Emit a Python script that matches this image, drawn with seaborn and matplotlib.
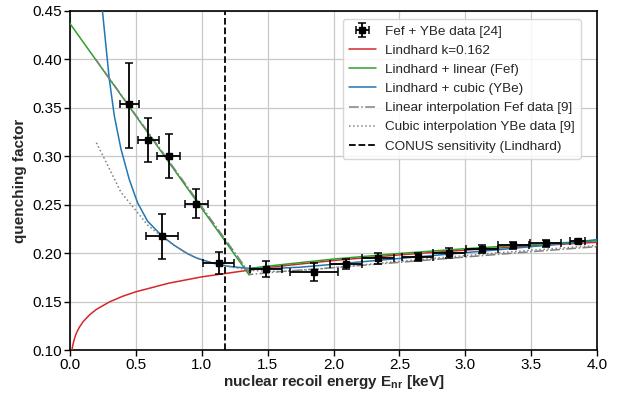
import numpy as np
import pandas as pd
import matplotlib
matplotlib.use("Agg")
import matplotlib.pyplot as plt
import seaborn as sns

# ---------------- data ----------------
# Fef + YBe data points [24]
data_x = [0.450, 0.594, 0.749, 0.960, 0.698, 1.128, 1.490, 1.852, 2.095, 2.340,
          2.639, 2.879, 3.125, 3.365, 3.610, 3.853]
data_y = [0.3535, 0.3173, 0.300, 0.251, 0.2176, 0.1895, 0.1836, 0.181, 0.189, 0.1947,
          0.1957, 0.2005, 0.2043, 0.208, 0.210, 0.2128]
data_xerr = [0.074, 0.081, 0.089, 0.089, 0.12, 0.12, 0.12, 0.18, 0.12, 0.12,
             0.12, 0.12, 0.12, 0.12, 0.12, 0.055]
data_yerr_lo = [0.0445, 0.0233, 0.022, 0.015, 0.0236, 0.0115, 0.008, 0.0095, 0.005, 0.0055,
                0.004, 0.005, 0.004, 0.004, 0.004, 0.002]
data_yerr_hi = [0.043, 0.0223, 0.0225, 0.015, 0.0224, 0.0115, 0.008, 0.009, 0.005, 0.0055,
                0.004, 0.005, 0.004, 0.004, 0.004, 0.002]

# Lindhard k=0.162
lind_x = [0.010, 0.015, 0.020, 0.030, 0.040, 0.050, 0.070, 0.10, 0.15, 0.20, 0.30, 0.40,
          0.50, 0.75, 1.00, 1.50, 2.00, 2.50, 3.00, 3.50, 4.00]
lind_y = [0.0948, 0.1001, 0.1041, 0.1100, 0.1144, 0.1179, 0.1233, 0.1293, 0.1365, 0.1419,
          0.1497, 0.1555, 0.1601, 0.1690, 0.1755, 0.1852, 0.1924, 0.1982, 0.2031, 0.2074,
          0.2112]

# Lindhard + linear (Fef)
lin_x = [0.00, 1.36, 1.38, 1.50, 2.00, 2.50, 3.00, 3.50, 4.00]
lin_y = [0.437, 0.1775, 0.1845, 0.1866, 0.1939, 0.1997, 0.2046, 0.2089, 0.2127]

# Lindhard + cubic (YBe)
cub_x = [0.230, 0.247, 0.272, 0.298, 0.336, 0.386, 0.450, 0.513, 0.589, 0.696, 0.792,
         0.894, 0.961, 1.088, 1.213, 1.340, 1.50, 1.75, 2.00, 2.25, 2.50, 2.75, 3.00,
         3.25, 3.50, 3.75, 4.00]
cub_y = [0.475, 0.449, 0.415, 0.380, 0.342, 0.308, 0.276, 0.252, 0.233, 0.218, 0.208,
         0.1993, 0.1950, 0.1895, 0.1862, 0.1845, 0.1840, 0.1855, 0.1885, 0.1915, 0.1945,
         0.1975, 0.2005, 0.2035, 0.2067, 0.2100, 0.2140]

# Linear interpolation Fef data [9]
fefint_x = [0.19, 1.37, 1.60, 2.00, 2.50, 3.00, 3.50, 4.00]
fefint_y = [0.401, 0.178, 0.181, 0.185, 0.1905, 0.196, 0.2015, 0.2067]

# Cubic interpolation YBe data [9]
ybeint_x = [0.20, 0.285, 0.386, 0.488, 0.589, 0.716, 0.868, 0.961, 1.10, 1.25, 1.40,
            1.60, 1.80, 2.00, 2.50, 3.00, 3.50, 4.00]
ybeint_y = [0.314, 0.291, 0.263, 0.246, 0.229, 0.215, 0.201, 0.1947, 0.1895, 0.185,
            0.182, 0.181, 0.1825, 0.185, 0.1915, 0.1975, 0.203, 0.208]

conus_x = 1.175

x_ticks = [0.0, 0.5, 1.0, 1.5, 2.0, 2.5, 3.0, 3.5, 4.0]
y_ticks = [0.10, 0.15, 0.20, 0.25, 0.30, 0.35, 0.40, 0.45]

# ---------------- style ----------------
sns.set_style("ticks")
plt.rcParams['font.family'] = ['Liberation Sans', 'DejaVu Sans']
plt.rcParams['mathtext.fontset'] = 'custom'
plt.rcParams['mathtext.rm'] = 'Liberation Sans'
plt.rcParams['mathtext.bf'] = 'Liberation Sans:bold'
plt.rcParams['mathtext.it'] = 'Liberation Sans:italic'

fig = plt.figure(figsize=(6.28, 3.95), dpi=100)
ax = fig.add_axes([70 / 628, 45 / 395, 527 / 628, 339 / 395])

ax.set_axisbelow(True)
ax.grid(True, color='#c8c8c8', linewidth=0.9)

eb = ax.errorbar(data_x, data_y, xerr=data_xerr, yerr=[data_yerr_lo, data_yerr_hi],
                 fmt='s', color='black', markersize=4, elinewidth=1.3, capsize=3,
                 capthick=1.1, label='Fef + YBe data [24]', zorder=6)

sns.lineplot(x=lind_x, y=lind_y, ax=ax, color='#d62728', linewidth=1.1,
             sort=False, estimator=None, label='Lindhard k=0.162', zorder=3)
sns.lineplot(x=lin_x, y=lin_y, ax=ax, color='#2ca02c', linewidth=1.1,
             sort=False, estimator=None, label='Lindhard + linear (Fef)', zorder=3)
sns.lineplot(x=cub_x, y=cub_y, ax=ax, color='#1f77b4', linewidth=1.1,
             sort=False, estimator=None, label='Lindhard + cubic (YBe)', zorder=3)
sns.lineplot(x=fefint_x, y=fefint_y, ax=ax, color='gray', linewidth=1.1,
             linestyle='-.', sort=False, estimator=None,
             label='Linear interpolation Fef data [9]', zorder=4)
sns.lineplot(x=ybeint_x, y=ybeint_y, ax=ax, color='gray', linewidth=1.1,
             linestyle=':', sort=False, estimator=None,
             label='Cubic interpolation YBe data [9]', zorder=4)
ax.axvline(conus_x, color='black', linestyle='--', linewidth=1.3,
           label='CONUS sensitivity (Lindhard)', zorder=5)

ax.set_xlim(0.0, 4.0)
ax.set_ylim(0.10, 0.45)
ax.set_xticks(x_ticks)
ax.set_xticklabels([f"{t:.1f}" for t in x_ticks])
ax.set_yticks(y_ticks)
ax.set_yticklabels([f"{t:.2f}" for t in y_ticks])
ax.tick_params(axis='both', direction='out', length=4, width=1, labelsize=11,
               colors='black', pad=1.5)
for s in ax.spines.values():
    s.set_visible(True)
    s.set_color('black')
    s.set_linewidth(1.2)

ax.set_xlabel(r'nuclear recoil energy $\mathbf{E_{nr}}$ [keV]', fontsize=11,
              fontweight='bold', labelpad=1)
ax.set_ylabel('quenching factor', fontsize=11, fontweight='bold', labelpad=4)

handles, labels = ax.get_legend_handles_labels()
order = [labels.index('Fef + YBe data [24]')] + \
        [i for i, l in enumerate(labels) if l != 'Fef + YBe data [24]']
leg = ax.legend([handles[i] for i in order], [labels[i] for i in order],
                loc='upper right', fontsize=9.7, frameon=True, fancybox=True,
                framealpha=0.85, edgecolor='#d0d0d0', handlelength=2.0,
                handletextpad=0.7, borderaxespad=0.6, labelspacing=0.5,
                borderpad=0.45, bbox_to_anchor=(0.985, 1.0))

fig.savefig('out.png', dpi=100)
